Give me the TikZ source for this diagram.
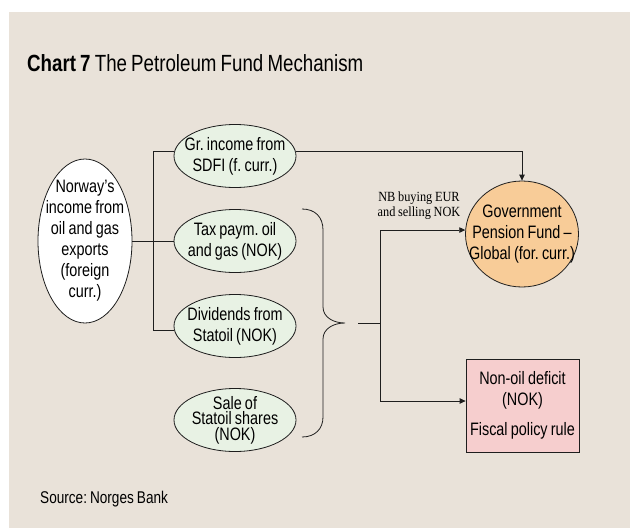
\documentclass[tikz,border=0pt]{standalone}
\usepackage{fontspec}
\setmainfont[FakeStretch=0.8,WordSpace=0.8]{Liberation Sans}
\newfontfamily\lblfont[FakeStretch=0.88,WordSpace=0.88]{Liberation Serif}
\usetikzlibrary{shapes.geometric,arrows.meta}
\definecolor{bg}{RGB}{233,226,217}
\definecolor{grn}{RGB}{232,242,228}
\definecolor{org}{RGB}{248,204,152}
\definecolor{pnk}{RGB}{246,206,206}
\definecolor{ink}{RGB}{30,30,30}
\frenchspacing
\begin{document}
\begin{tikzpicture}[x=1pt,y=-1pt,
  conn/.style={draw=ink, line width=0.8pt},
  arr/.style={conn, -{Triangle[length=6pt,width=5.5pt]}},
  oval/.style={ellipse, draw=ink, line width=0.8pt, inner sep=-40pt, align=center, font=\fontsize{18}{21}\selectfont},
  leftoval/.style={oval, fill=white, minimum width=94pt, minimum height=164pt},
  greenoval/.style={oval, fill=grn, minimum width=122pt, minimum height=63pt},
  fundoval/.style={oval, fill=org, minimum width=113pt, minimum height=106pt},
  defbox/.style={rectangle, draw=ink, line width=0.8pt, fill=pnk, inner sep=0pt, minimum width=113pt, minimum height=93pt, align=center, font=\fontsize{18}{21}\selectfont},
  lbl/.style={align=center, inner sep=0pt, font=\lblfont\fontsize{14}{15}\selectfont}
]
\useasboundingbox (0,0) rectangle (630,528);
\fill[white] (0,0) rectangle (630,528);
\fill[bg] (9,12) rectangle (630,528);

\node[anchor=base west, inner sep=0pt, font=\fontsize{23.4}{26}\selectfont] (title) at (27,71) {\textbf{Chart 7} The Petroleum Fund Mechanism};
\node[anchor=base west, inner sep=0pt, font=\fontsize{17}{20}\selectfont] (src) at (40,503) {Source: Norges Bank};

\node[leftoval] (nor) at (85,241) {Norway’s\\income from\\oil and gas\\exports\\(foreign\\curr.)};
\node[greenoval] (e1) at (235,156) {Gr. income from\\SDFI (f. curr.)};
\node[greenoval] (e2) at (235,241) {Tax paym. oil\\and gas (NOK)};
\node[greenoval] (e3) at (235,326) {Dividends from\\Statoil (NOK)};
\node[greenoval, font=\fontsize{18}{15.5}\selectfont] (e4) at (235,420) {Sale of\\Statoil shares\\(NOK)};
\node[fundoval] (gpf) at (522,234) {Government\\Pension Fund –\\Global (for. curr.)};
\node[defbox] (nod) at (522.5,405.5) {Non-oil deficit\\(NOK)\\[9pt]Fiscal policy rule};
\node[lbl] (nb) at (419,205.5) {NB buying EUR\\and selling NOK};

\coordinate (trunk) at (153,241);
\draw[conn] (nor.east) -- (e2.west);
\draw[conn] (e1.176) -| (trunk |- e3.184) -- (e3.184);
\draw[arr] (e1.4) -| (gpf.north);

\draw[conn] (302,209) .. controls (315,209) and (323,217) .. (323,230) -- (323,307)
  .. controls (323,317) and (333,323) .. (345,323)
  .. controls (333,323) and (323,329) .. (323,339) -- (323,417)
  .. controls (323,429) and (315,437) .. (302,437);
\coordinate (jl) at (358,323);
\coordinate (junc) at (380,323);
\draw[conn] (jl) -- (junc);
\draw[arr] (junc) |- (gpf.176);
\draw[arr] (junc) |- ([yshift=4.5pt]nod.west);
\end{tikzpicture}
\end{document}
